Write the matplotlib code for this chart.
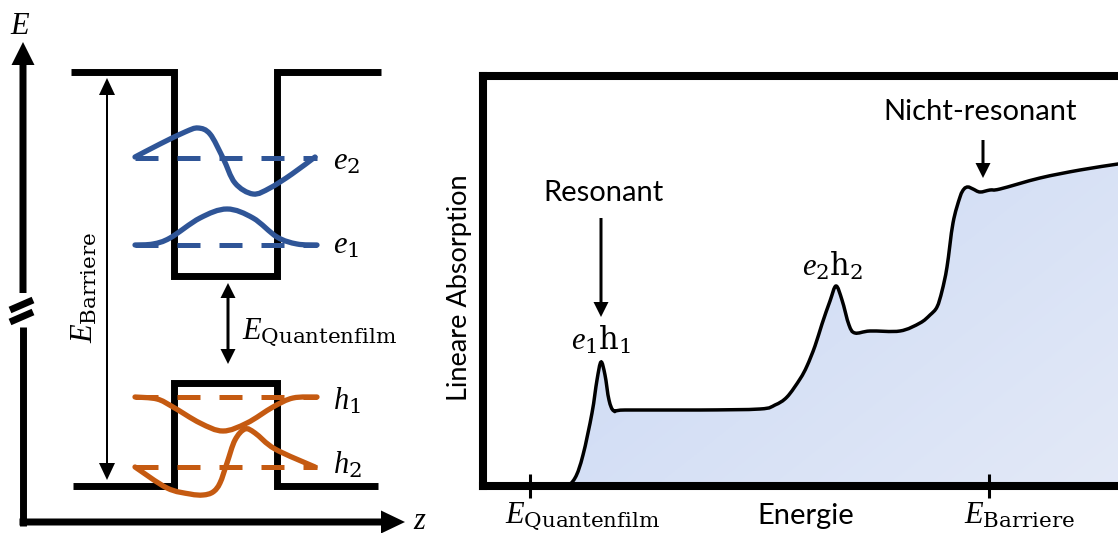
import matplotlib
matplotlib.use("Agg")
import matplotlib.pyplot as plt
import numpy as np
from matplotlib.path import Path
from matplotlib.patches import PathPatch

plt.rcParams['mathtext.fontset'] = 'custom'
plt.rcParams['mathtext.rm'] = 'DejaVu Serif'
plt.rcParams['mathtext.it'] = 'Liberation Serif:italic'
SANS = ['Lato', 'DejaVu Sans']

# ---------------- data: quantum well schematic (z, E; E axis drawn downward-inverted) -------------
cb_z = [71, 174, 174, 277, 277, 381]
cb_E = [72, 72, 276, 276, 72, 72]
vb_z = [73, 174, 174, 277, 277, 378]
vb_E = [486, 486, 383, 383, 486, 486]
level_z = [135, 317]
e_levels = [245, 158]      # e1, e2
h_levels = [397, 467]      # h1, h2

e1_z = [135, 153, 170, 200, 227, 253, 277, 297, 317]
e1_E = [245, 244, 238, 218, 209, 218, 237, 244, 245]
e2_z = [135, 160, 185, 198, 210, 223, 235, 253, 270, 292, 315]
e2_E = [157, 144, 132, 128, 134, 158, 183, 194, 188, 174, 157]
h1_z = [135, 157, 173, 200, 223, 247, 273, 293, 317]
h1_E = [397, 399, 407, 423, 431, 423, 407, 398, 397]
h2_z = [135, 167, 190, 203, 213, 220, 227, 235, 245, 255, 275, 315]
h2_E = [467, 488, 494, 495, 492, 483, 463, 440, 429, 433, 449, 467]

# ---------------- data: absorption spectrum -------------
energy = [0, 60, 82, 92, 100, 109, 114, 118, 122, 126, 131, 142, 217, 277, 292, 304, 317, 324,
          332, 339, 347, 353, 359, 366, 372, 387, 417, 437, 447, 454, 459, 464, 470, 477,
          481, 485, 490, 497, 507, 517, 557, 597, 635, 642]
absorption = [0, 0, 0, 8, 31, 73, 106, 124, 111, 86, 75, 76, 76, 77, 81, 89, 107, 120,
              140, 162, 185, 200, 186, 161, 153, 155, 155, 163, 171, 179, 195, 219, 263, 289,
              297, 299, 297, 294, 296, 297, 308, 316, 322, 323]
tick_pos = [47, 506]
tick_labels = [r'$E_{\mathrm{Quantenfilm}}$', r'$E_{\mathrm{Barriere}}$']

BLUE = '#2F5597'
ORANGE = '#C55A11'


def smooth_path(xs, ys):
    P = np.column_stack([xs, ys]).astype(float)
    n = len(P)
    verts = [P[0]]
    codes = [Path.MOVETO]
    for i in range(n - 1):
        p0 = P[i - 1] if i > 0 else P[i]
        p1, p2 = P[i], P[i + 1]
        p3 = P[i + 2] if i + 2 < n else P[i + 1]
        verts += [p1 + (p2 - p0) / 6.0, p2 - (p3 - p1) / 6.0, p2]
        codes += [Path.CURVE4] * 3
    return verts, codes


fig = plt.figure(figsize=(11.18, 5.33), dpi=100)

# ================= left panel =================
axl = fig.add_axes([0, 0, 440 / 1118, 1])
axl.set_xlim(0, 440)
axl.set_ylim(533, 0)
axl.axis('off')

lw_band = 5.0
axl.plot(cb_z, cb_E, color='k', lw=lw_band, solid_joinstyle='miter', solid_capstyle='butt', zorder=2)
axl.plot(vb_z, vb_E, color='k', lw=lw_band, solid_joinstyle='miter', solid_capstyle='butt', zorder=2)

dash = (0, (4.6, 3.8))
for lv in e_levels:
    axl.plot(level_z, [lv, lv], color=BLUE, lw=3.6, linestyle=dash, dash_capstyle='butt', zorder=3)
for lv in h_levels:
    axl.plot(level_z, [lv, lv], color=ORANGE, lw=3.6, linestyle=dash, dash_capstyle='butt', zorder=3)

for zs, Es, col in [(e1_z, e1_E, BLUE), (e2_z, e2_E, BLUE), (h1_z, h1_E, ORANGE), (h2_z, h2_E, ORANGE)]:
    v, c = smooth_path(zs, Es)
    axl.add_patch(PathPatch(Path(v, c), fc='none', ec=col, lw=3.8, capstyle='round', zorder=4))

# axes arrows
axl.arrow(23, 293, 0, 42 - 293, width=7, head_width=23, head_length=23,
          length_includes_head=True, fc='k', ec='none', zorder=5)
axl.plot([23, 23], [327, 525.5], color='k', lw=5.0, solid_capstyle='butt', zorder=5)
axl.arrow(19.5, 522, 405 - 19.5, 0, width=7, head_width=23, head_length=24,
          length_includes_head=True, fc='k', ec='none', zorder=5)
axl.plot([10, 33], [310, 300], color='k', lw=5.0, solid_capstyle='butt', zorder=5)
axl.plot([10, 33], [322, 312], color='k', lw=5.0, solid_capstyle='butt', zorder=5)

# energy arrows
for tip in (78, 480):
    axl.arrow(107, 279, 0, tip - 279, width=2, head_width=16, head_length=17,
              length_includes_head=True, fc='k', ec='none', zorder=5)
for tip in (283, 364):
    axl.arrow(228, 323, 0, tip - 323, width=3, head_width=15, head_length=15,
              length_includes_head=True, fc='k', ec='none', zorder=5)

MS = 22
axl.text(20, 25, r'$E$', fontsize=MS, ha='center', va='center')
axl.text(413, 529, r'$z$', fontsize=MS, ha='left', va='baseline')
axl.text(84, 287, r'$E_{\mathrm{Barriere}}$', fontsize=MS, rotation=90, ha='center', va='center')
axl.text(242, 339, r'$E_{\mathrm{Quantenfilm}}$', fontsize=MS, ha='left', va='baseline')
axl.text(333, 170, r'$e_2$', fontsize=MS, ha='left', va='baseline')
axl.text(333, 254, r'$e_1$', fontsize=MS, ha='left', va='baseline')
axl.text(333, 410, r'$h_1$', fontsize=MS, ha='left', va='baseline')
axl.text(333, 474, r'$h_2$', fontsize=MS, ha='left', va='baseline')

# ================= right panel =================
axr = fig.add_axes([483 / 1118, (533 - 486) / 533, 639 / 1118, 410 / 533])
axr.set_xlim(0, 639)
axr.set_ylim(0, 410)
for s in axr.spines.values():
    s.set_linewidth(5.8)
    s.set_zorder(6)
axr.set_yticks([])
axr.set_xticks(tick_pos)
axr.tick_params(axis='x', direction='inout', length=17, width=2.2, labelbottom=False)

v, c = smooth_path(energy, absorption)
fill_v = v + [(energy[-1], 0), (energy[0], 0), (energy[0], 0)]
fill_c = c + [Path.LINETO, Path.LINETO, Path.CLOSEPOLY]
clip = PathPatch(Path(fill_v, fill_c), fc='none', ec='none', transform=axr.transData)
axr.add_patch(clip)
gx, gy = np.meshgrid(np.linspace(0, 1, 200), np.linspace(0, 1, 200))
t = np.clip(0.55 * gx + 0.45 * (1 - gy), 0, 1)
c1 = np.array([0.773, 0.835, 0.953])
c2 = np.array([0.890, 0.914, 0.969])
grad = c1[None, None, :] * (1 - t[..., None]) + c2[None, None, :] * t[..., None]
im = axr.imshow(grad, extent=[0, 639, 0, 410], origin='lower', aspect='auto', zorder=1)
im.set_clip_path(clip)
axr.add_patch(PathPatch(Path(v, c), fc='none', ec='k', lw=2.5, zorder=3))

FS = 21
axr.text(120, 293, 'Resonant', fontsize=FS, family=SANS, ha='center', va='center')
axr.arrow(118, 268, 0, 169 - 268, width=3, head_width=15, head_length=15,
          length_includes_head=True, fc='k', ec='none', zorder=5)
axr.text(118, 136, r'$e_1\mathrm{h}_1$', fontsize=MS, ha='center', va='baseline')
axr.text(350, 210, r'$e_2\mathrm{h}_2$', fontsize=MS, ha='center', va='baseline')
axr.text(497, 374, 'Nicht-resonant', fontsize=FS, family=SANS, ha='center', va='center')
axr.arrow(500, 346, 0, 308 - 346, width=3, head_width=15, head_length=15,
          length_includes_head=True, fc='k', ec='none', zorder=5)
axr.text(323, -30, 'Energie', fontsize=FS, family=SANS, ha='center', va='center', clip_on=False)
axr.text(-24, 198, 'Lineare Absorption', fontsize=19.5, family=SANS, rotation=90,
         ha='center', va='center', clip_on=False)
for x, lab in zip(tick_pos, tick_labels):
    axr.text(x - 25, -37, lab, fontsize=MS, ha='left', va='baseline', clip_on=False)

fig.savefig('out.png', dpi=100)
